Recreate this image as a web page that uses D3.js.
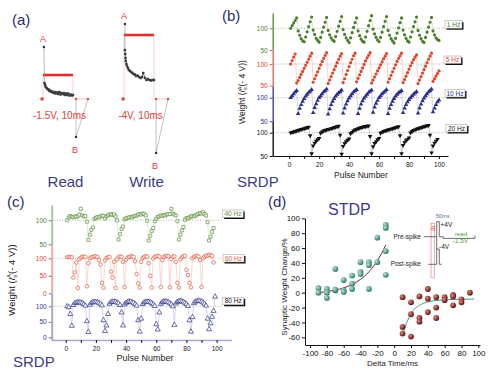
<!DOCTYPE html>
<html>
<head>
<meta charset="utf-8">
<script src="https://cdn.jsdelivr.net/npm/d3@7"></script>
<title>SRDP / STDP</title>
<style>
body { margin: 0; background: #fff; }
svg { font-family: "Liberation Sans", Arial, sans-serif; }
</style>
</head>
<body>
<div id="fig"></div>
<script type="text/javascript">

// ---- panel (a): read / write current traces (t in ms, current in arb. units)
var readT = [0.5, 0.7, 0.9, 1.2, 1.5, 1.8, 2.1, 2.4, 2.8, 3.1, 3.5, 3.9, 4.2, 4.6, 5.0, 5.4, 5.8, 6.1, 6.5, 6.9, 7.2, 7.6, 8.0, 8.4, 8.8, 9.2, 9.6, 10];
var readI = [16, 14, 12, 11, 10, 9.5, 8, 8.5, 7, 7.5, 6, 7, 5.5, 6.5, 5, 7, 4.5, 6, 5, 6, 4, 5.5, 4, 5.5, 3.5, 4.5, 3.5, 4];
var writeT = [0.3, 0.4, 0.5, 0.6, 0.8, 1.0, 1.3, 1.6, 2.0, 2.4, 2.8, 3.2, 3.6, 4.0, 4.5, 5.0, 5.5, 6.0, 6.4, 7.0, 7.5, 8.0, 8.5, 9.0, 9.5, 10];
var writeI = [49, 45, 41, 38, 35, 33, 31, 29, 28, 27, 26, 25, 24.5, 23, 23.5, 22, 21, 22, 26, 21, 19, 20, 19, 18.5, 19, 19];
var readLevels = {peak: 52, pulse: 24, b: -38, tail: [11, 15]};
var writeLevels = {peak: 75, pulse: 64, b: -54, tail: [10.7, 14.7]};

// ---- panel (b): weight vs pulse number at 1, 5, 10, 20 Hz
var bLabels = ["1 Hz", "5 Hz", "10 Hz", "20 Hz"];
var b1Hz = [100,106,112,118,124,
  94,84,76,71,69,80,92,104,115,126,
  96,86,77,72,68,79,91,103,114,125,
  95,85,78,73,70,81,93,105,116,127,
  97,86,78,72,67,78,90,102,113,124,
  94,83,75,70,68,80,93,106,118,129,
  98,87,79,73,69,79,91,104,116,127,
  95,84,76,71,66,77,89,101,113,124,
  96,85,77,71,68,80,92,104,115,126,
  95,84,76,70,67,79,91,103,114,125,
  94,85,78,74,72];
var b5Hz = [100,108,116,123,
  56,62,69,76,83,90,97,104,111,118,125,
  58,66,74,82,90,98,106,113,120,126,
  55,63,71,79,87,95,103,111,118,124,
  57,66,76,85,94,103,111,119,125,
  59,67,75,83,91,99,107,114,120,126,
  56,63,70,77,84,91,98,105,112,118,124,
  58,66,74,82,90,98,106,113,119,125,
  57,64,72,80,88,96,103,110,116,121,
  55,63,71,79,87,95,103,111,118,125,
  60,66,72,78,84];
var b10Hz = [100,104,108,112,115,
  66,77,85,92,98,103,107,111,114,117,
  68,79,87,94,100,104,108,112,115,118,
  65,76,85,92,98,103,107,110,113,116,
  67,78,86,93,99,104,108,112,115,117,
  66,77,86,93,99,103,107,111,114,116,
  69,80,88,94,100,104,108,111,114,117,
  66,77,85,92,98,103,107,110,113,115,
  68,78,85,91,96,100,104,107,110,113,
  67,78,86,93,99,104,108,112,115,118,
  70,78,85,91,95];
var b20Hz = [100,101,102,103,104,105,106,107,108,109,110,111,112,
  94,55,72,78,82,85,88,
  99,102,104,105,106,107,108,109,110,111,112,113,114,
  95,54,71,77,81,84,87,
  98,101,104,106,107,109,110,111,112,113,113,114,115,
  92,55,70,77,81,85,88,
  99,101,103,104,105,106,107,108,109,110,111,112,113,
  94,55,73,79,83,86,89,
  100,103,105,106,108,109,110,111,112,113,114,115,116,
  95,57,72,78,82,86];

// ---- panel (c): weight vs pulse number at 40, 60, 80 Hz
var cLabels = ["40 Hz", "60 Hz", "80 Hz"];
var c40Hz = [100,106,109,107,106,108,107,109,112,124,110,108,109,97,
  59,70,80,85,
  103,105,107,106,108,110,109,104,108,110,112,113,111,112,108,100,
  60,71,82,87,
  102,104,105,106,107,106,108,109,110,112,113,112,114,113,110,99,
  58,68,78,84,
  98,103,107,108,110,109,111,110,112,113,113,124,114,112,110,98,
  60,70,79,86,
  101,105,104,106,108,109,108,110,112,113,115,114,117,113,110,96,
  58,66,76,84];
var c60Hz = [103,104,104,103,45,60,88,15,98,102,104,105,104,20,86,100,103,104,106,105,
  104,95,82,30,16,94,101,103,104,62,45,90,15,97,103,105,104,90,18,96,
  102,104,106,105,104,92,55,28,16,90,101,104,106,105,86,50,16,99,104,106,
  107,105,18,95,104,106,107,106,17,98,104,106,90,30,16,97,103,106,107,67,
  52,30,17,100,104,106,107,105,95,18,100,105,107,108,110,109,107,88];
var c80Hz = [100,97,75,37,
  104,110,112,113,113,112,110,107,102,
  52,17,
  105,111,113,114,114,113,111,108,103,
  55,20,38,75,
  108,113,115,115,114,112,109,104,
  80,38,
  106,111,114,115,115,113,111,107,102,
  55,18,60,
  107,112,114,115,114,113,110,106,101,
  42,25,80,
  108,113,115,116,115,113,110,106,100,
  40,
  109,114,116,117,116,114,111,107,101,
  55,18,65,
  110,115,117,118,117,115,112,108,102,
  60,26,
  45,66,85,131];

// ---- panel (d): STDP, delta t (ms) vs synaptic weight change (%)
var ltpDt = [-90,-90,-80,-80,-80,-70,-70,-70,-60,-60,-60,-50,-50,-50,-40,-40,-40,-30,-30,-30,-20,-20,-10,-10,-10,-10];
var ltpW  = [6,0,5,0,-7,32,3,4,17,3,1,23,12,5,41,28,25,41,37,5,74,41,91,87,56,24];
var ltdDt = [10,10,10,20,20,20,30,30,30,40,40,40,50,50,50,60,60,70,70,70,80,80,90];
var ltdW  = [-6,-46,-55,-13,-29,-59,-5,-34,-39,5,-8,-26,-6,-20,-34,-6,-10,-3,-5,-17,-9,-13,0];
var ltpFitDt = [-90,-80,-70,-60,-50,-40,-30,-20,-10];
var ltpFitW  = [0,1.5,3.5,6.5,11,18,28,43,64];
var ltdFitDt = [10,15,20,30,40,50,60,70,80,95];
var ltdFitW  = [-55,-40,-28,-17,-12.5,-10.5,-9.5,-9,-8.8,-8.6];
// inset pulse schematic (ms, V-ish)
var preWave  = [[-17,0],[0,0],[0,4],[3.4,4],[3.4,0],[8.6,0],[8.6,-0.45],[50,-0.45],[50,0.25]];
var postWave = [[-11,0],[0,0],[0,4],[3.4,4],[3.4,0],[6.5,0]];

var FONT = "Liberation Sans, Arial, sans-serif";
var TITLE = "#3b3b8c";
var plain = function(d){ return String(d); };

var svg = d3.select("#fig").append("svg")
	.attr("width", 500)
	.attr("height", 375);
svg.append("rect").attr("width", 500).attr("height", 375).attr("fill", "#fff");

function styleAxis(g, color, size, width) {
	g.attr("font-family", FONT);
	g.select(".domain").attr("stroke", color).attr("stroke-width", width || 1);
	g.selectAll(".tick line").attr("stroke", color);
	g.selectAll(".tick text").attr("fill", color).attr("font-size", size);
}

function legendBox(x, y, w, h, label, color) {
	svg.append("rect").attr("x", x + 1.5).attr("y", y + 1.5).attr("width", w).attr("height", h).attr("fill", "#111");
	svg.append("rect").attr("x", x).attr("y", y).attr("width", w).attr("height", h)
		.attr("fill", "#fff").attr("stroke", "#999").attr("stroke-width", 0.5);
	svg.append("text").attr("x", x + w / 2).attr("y", y + h - 1.4)
		.attr("text-anchor", "middle").attr("font-size", 6.5).attr("fill", color).text(label);
}

function weightTitle(x, y, size) {
	var t = svg.append("text")
		.attr("transform", "translate(" + x + "," + y + ") rotate(-90)")
		.attr("text-anchor", "middle").attr("font-size", size).attr("fill", "#222");
	t.append("tspan").text("Weight (");
	t.append("tspan").attr("font-style", "italic").text("I");
	t.append("tspan").attr("font-size", size * 0.65).attr("dy", size * 0.25).text("s");
	t.append("tspan").attr("font-size", size * 0.65).attr("dx", -size * 0.35).attr("dy", -size * 0.65).text("A");
	t.append("tspan").attr("dy", size * 0.4).text("(- 4 V))");
}

function label(x, y, txt, size, color, anchor) {
	return svg.append("text").attr("x", x).attr("y", y).attr("font-size", size)
		.attr("fill", color).attr("text-anchor", anchor || "start").text(txt);
}

// ================= (a) =================
label(12, 25, "(a)", 15, "#2c2c6e");
var aY = d3.scaleLinear().domain([0, 75]).range([99, 24]);
var aXr = d3.scaleLinear().domain([0, 10]).range([43, 73]);
var aXw = d3.scaleLinear().domain([0, 10]).range([124, 154]);

function drawTrace(aX, ts, is, lv, caption, name) {
	var pts = ts.map(function(t, i){ return [t, is[i]]; });
	// pale verticals from the pulse bar
	[0, 10].forEach(function(t){
		svg.append("line").attr("x1", aX(t)).attr("x2", aX(t)).attr("y1", aY(lv.pulse)).attr("y2", aY(0))
			.attr("stroke", "#f2b3b3").attr("stroke-width", 0.6);
	});
	// A -> start of the decay
	svg.append("line").attr("x1", aX(0.3)).attr("y1", aY(lv.peak)).attr("x2", aX(ts[0])).attr("y2", aY(is[0]))
		.attr("stroke", "#888").attr("stroke-width", 0.6);
	svg.append("path").datum(pts)
		.attr("d", d3.line().x(function(d){ return aX(d[0]); }).y(function(d){ return aY(d[1]); }))
		.attr("fill", "none").attr("stroke", "#555").attr("stroke-width", 0.8);
	svg.selectAll(null).data(pts).enter().append("rect")
		.attr("x", function(d){ return aX(d[0]) - 1.2; })
		.attr("y", function(d){ return aY(d[1]) - 1.2; })
		.attr("width", 2.4).attr("height", 2.4).attr("fill", "#3a3a3a");
	// red pulse bar
	svg.append("line").attr("x1", aX(0)).attr("x2", aX(10)).attr("y1", aY(lv.pulse)).attr("y2", aY(lv.pulse))
		.attr("stroke", "#e3302b").attr("stroke-width", 2.6);
	// tail to B
	svg.append("line").attr("x1", aX(lv.tail[0])).attr("x2", aX(lv.tail[1])).attr("y1", aY(0)).attr("y2", aY(0))
		.attr("stroke", "#f0a0a0").attr("stroke-width", 0.6);
	svg.append("line").attr("x1", aX(lv.tail[0])).attr("y1", aY(0)).attr("x2", aX(lv.tail[0])).attr("y2", aY(lv.b))
		.attr("stroke", "#999").attr("stroke-width", 0.6);
	svg.append("line").attr("x1", aX(lv.tail[1])).attr("y1", aY(0)).attr("x2", aX(lv.tail[0])).attr("y2", aY(lv.b))
		.attr("stroke", "#999").attr("stroke-width", 0.6);
	[-0.3, lv.tail[0], lv.tail[1]].forEach(function(t, i){
		var s = i === 0 ? 3.2 : 2.2;
		svg.append("rect").attr("x", aX(t) - s / 2).attr("y", aY(0) - s / 2).attr("width", s).attr("height", s)
			.attr("fill", "#e04a40");
	});
	svg.append("rect").attr("x", aX(0.3) - 1.1).attr("y", aY(lv.peak) - 1.1).attr("width", 2.2).attr("height", 2.2).attr("fill", "#333");
	svg.append("rect").attr("x", aX(lv.tail[0]) - 1.1).attr("y", aY(lv.b) - 1.1).attr("width", 2.2).attr("height", 2.2).attr("fill", "#333");
	label(aX(0), aY(lv.peak) - 5, "A", 9, "#e0403a", "middle");
	label(aX(lv.tail[0]) - 1, aY(lv.b) + 16, "B", 9, "#e0403a", "middle");
	label(aX(5.5), 119, caption, 10, "#e0403a", "middle");
	label(aX(7.5), 187, name, 15, TITLE, "middle");
}
drawTrace(aXr, readT, readI, readLevels, "-1.5V, 10ms", "Read");
drawTrace(aXw, writeT, writeI, writeLevels, "-4V, 10ms", "Write");

// ================= (b) =================
label(222, 21, "(b)", 15, "#2c2c6e");
var bX = d3.scaleLinear().domain([-11, 106]).range([272.7, 448]);
var bRows = [
	{vals: b1Hz, label: bLabels[0], color: "#4c7d2a", light: "#c3d6b3", axis: "#5f8f3c", sym: d3.symbolCircle, size: 8, down: false, y100: 28.3, y50: 50, top: 13, box: [445, 20.7, 17]},
	{vals: b5Hz, label: bLabels[1], color: "#e2452a", light: "#f5b8aa", axis: "#ec6a55", sym: d3.symbolCircle, size: 8, down: false, y100: 64, y50: 85.7, top: 50, box: [444, 56, 17]},
	{vals: b10Hz, label: bLabels[2], color: "#2a2f8a", light: "#b5b8dc", axis: "#3f44a0", sym: d3.symbolTriangle, size: 9, down: false, y100: 97.7, y50: 121.3, top: 85.7, box: [445, 89.5, 20]},
	{vals: b20Hz, label: bLabels[3], color: "#111", light: "#aaa", axis: "#111", sym: d3.symbolTriangle, size: 9, down: true, y100: 132.7, y50: 156, top: 121.3, box: [446, 124.5, 21]}
];
bRows.forEach(function(r){
	var y = d3.scaleLinear().domain([50, 100]).range([r.y50, r.y100]);
	svg.append("line").attr("x1", bX.range()[0]).attr("x2", r.box[0]).attr("y1", y(100)).attr("y2", y(100))
		.attr("stroke", "#8a8a8a").attr("stroke-width", 0.7).attr("stroke-dasharray", "1,1.6");
	svg.append("path").datum(r.vals)
		.attr("d", d3.line().x(function(d, i){ return bX(i + 1); }).y(function(d){ return y(d); }))
		.attr("fill", "none").attr("stroke", r.light).attr("stroke-width", 0.6);
	svg.selectAll(null).data(r.vals).enter().append("path")
		.attr("transform", function(d, i){ return "translate(" + bX(i + 1) + "," + y(d) + ")" + (r.down ? " rotate(180)" : ""); })
		.attr("d", d3.symbol().type(r.sym).size(r.size))
		.attr("fill", r.color);
	var ya = y.copy().domain([50, y.invert(r.top)]).range([r.y50, r.top]);
	var g = svg.append("g").attr("transform", "translate(" + bX.range()[0] + ",0)")
		.call(d3.axisLeft(ya).tickValues([50, 100]).tickFormat(plain).tickSize(3).tickSizeOuter(0).tickPadding(2));
	styleAxis(g, r.axis, 6.5, 1.4);
	g.selectAll(".tick text").attr("fill", r.color);
	legendBox(r.box[0], r.box[1], r.box[2], 7.5, r.label, r.color);
});
var bxa = svg.append("g").attr("transform", "translate(0,156)")
	.call(d3.axisBottom(bX).tickValues(d3.range(0, 101, 10))
		.tickFormat(function(d){ return d % 20 === 0 ? String(d) : ""; })
		.tickSize(3).tickSizeOuter(0).tickPadding(3));
styleAxis(bxa, "#111", 6.5, 1);
label(361, 178, "Pulse Number", 8.5, "#222", "middle");
weightTitle(245, 92, 8.5);
label(237, 187, "SRDP", 15, TITLE);

// ================= (c) =================
label(7, 207, "(c)", 15, "#2c2c6e");
var cX = d3.scaleLinear().domain([-9.3, 110]).range([51.7, 231.7]);
var cRows = [
	{vals: c40Hz, label: cLabels[0], color: "#5f8f3c", light: "#c9dbbb", axis: "#a9c795", tick: "#4f7d32", sym: d3.symbolSquare, size: 9, dom: [50, 100], rng: [244.3, 220.3], ticks: [50, 100], top: 205, bottom: 246, box: [222.7, 210, 20.5], dot: "#8aa07a"},
	{vals: c60Hz, label: cLabels[1], color: "#e2553b", light: "#f5c0b3", axis: "#f3aaa3", tick: "#e2453a", sym: d3.symbolCircle, size: 10, dom: [0, 100], rng: [293.3, 258.3], ticks: [0, 50, 100], top: 246, bottom: 293.3, box: [223, 254.5, 21], dot: "#e89a80"},
	{vals: c80Hz, label: cLabels[2], color: "#2e3388", light: "#b9bbdb", axis: "#a9aad3", tick: "#2e3388", sym: d3.symbolTriangle, size: 11, dom: [0, 100], rng: [337.3, 306.3], ticks: [0, 50, 100], top: 293.3, bottom: 340, box: [222.7, 297.3, 21], dot: "#9a9aae"}
];
cRows.forEach(function(r){
	var y = d3.scaleLinear().domain(r.dom).range(r.rng);
	svg.append("line").attr("x1", cX.range()[0]).attr("x2", r.box[0]).attr("y1", y(100)).attr("y2", y(100))
		.attr("stroke", r.dot).attr("stroke-width", 0.7).attr("stroke-dasharray", "1,1.6");
	svg.append("path").datum(r.vals)
		.attr("d", d3.line().x(function(d, i){ return cX(i + 1); }).y(function(d){ return y(d); }))
		.attr("fill", "none").attr("stroke", r.light).attr("stroke-width", 0.6);
	svg.selectAll(null).data(r.vals).enter().append("path")
		.attr("transform", function(d, i){ return "translate(" + cX(i + 1) + "," + y(d) + ")"; })
		.attr("d", d3.symbol().type(r.sym).size(r.size))
		.attr("fill", "#fff").attr("stroke", r.color).attr("stroke-width", 0.7);
	var ya = y.copy().domain([y.invert(r.bottom), y.invert(r.top)]).range([r.bottom, r.top]);
	var g = svg.append("g").attr("transform", "translate(" + cX.range()[0] + ",0)")
		.call(d3.axisLeft(ya).tickValues(r.ticks).tickFormat(plain).tickSize(3).tickSizeOuter(0).tickPadding(2));
	styleAxis(g, r.axis, 6.5, 2);
	g.selectAll(".tick line").attr("stroke", "#777");
	g.selectAll(".tick text").attr("fill", r.tick);
	legendBox(r.box[0], r.box[1], r.box[2], 7.5, r.label, r.label === cLabels[2] ? "#111" : r.color);
});
var cxa = svg.append("g").attr("transform", "translate(0,340)")
	.call(d3.axisBottom(cX).tickValues(d3.range(0, 101, 10))
		.tickFormat(function(d){ return d % 20 === 0 ? String(d) : ""; })
		.tickSize(3).tickSizeOuter(0).tickPadding(3));
styleAxis(cxa, "#111", 6.5, 1);
cxa.select(".domain").attr("stroke", "#a9aad3").attr("stroke-width", 1.5);
label(145, 361, "Pulse Number", 9, "#222", "middle");
weightTitle(15, 280, 9.5);
label(13, 367, "SRDP", 15, TITLE);

// ================= (d) =================
label(268, 207, "(d)", 15, "#2c2c6e");
label(328, 215, "STDP", 16, TITLE);
var defs = svg.append("defs");
[["gTeal", "#b7e3d6", "#2f7a68"], ["gRed", "#d98a80", "#5e1410"]].forEach(function(c){
	var gr = defs.append("radialGradient").attr("id", c[0]).attr("cx", "35%").attr("cy", "35%").attr("r", "65%");
	gr.append("stop").attr("offset", "0%").attr("stop-color", c[1]);
	gr.append("stop").attr("offset", "100%").attr("stop-color", c[2]);
});
var dX = d3.scaleLinear().domain([-106, 102]).range([305, 480]);
var dY = d3.scaleLinear().domain([-70.3, 100]).range([345, 218.3]);
var dxa = svg.append("g").attr("transform", "translate(0,345)")
	.call(d3.axisBottom(dX).tickValues(d3.range(-100, 101, 20)).tickFormat(plain).tickSize(3).tickSizeOuter(0).tickPadding(2));
styleAxis(dxa, "#111", 8, 1);
var dya = svg.append("g").attr("transform", "translate(305,0)")
	.call(d3.axisLeft(dY).tickValues(d3.range(-60, 101, 20)).tickFormat(plain).tickSize(3).tickSizeOuter(0).tickPadding(2));
styleAxis(dya, "#111", 8, 1);
label(392.5, 366, "Delta Time/ms", 8, "#222", "middle");
svg.append("text").attr("transform", "translate(287,287) rotate(-90)")
	.attr("text-anchor", "middle").attr("font-size", 8).attr("fill", "#222").text("Synaptic Weight Change/%");

var fitLine = d3.line().x(function(d){ return dX(d[0]); }).y(function(d){ return dY(d[1]); }).curve(d3.curveMonotoneX);
svg.append("path").datum(ltpFitDt.map(function(t, i){ return [t, ltpFitW[i]]; }))
	.attr("d", fitLine).attr("fill", "none").attr("stroke", "#6e2a2a").attr("stroke-width", 1);
svg.append("path").datum(ltdFitDt.map(function(t, i){ return [t, ltdFitW[i]]; }))
	.attr("d", fitLine).attr("fill", "none").attr("stroke", "#4a9a88").attr("stroke-width", 1);
svg.selectAll(null).data(ltpDt).enter().append("circle")
	.attr("cx", function(d){ return dX(d); })
	.attr("cy", function(d, i){ return dY(ltpW[i]); })
	.attr("r", 2.9).attr("fill", "url(#gTeal)");
svg.selectAll(null).data(ltdDt).enter().append("circle")
	.attr("cx", function(d){ return dX(d); })
	.attr("cy", function(d, i){ return dY(ltdW[i]); })
	.attr("r", 2.9).attr("fill", "url(#gRed)");

// inset: pre / post spike schematic
var iX = d3.scaleLinear().domain([0, 50]).range([436.7, 475]);
var iPre = d3.scaleLinear().domain([0, 4]).range([236.7, 221.7]);
var iPost = d3.scaleLinear().domain([0, 4]).range([264.3, 249]);
svg.append("rect").attr("x", iX(-7.4)).attr("y", iPre(3.6)).attr("width", iX(-3.1) - iX(-7.4)).attr("height", iPost(-3.4) - iPre(3.6))
	.attr("fill", "none").attr("stroke", "#ee8f9a").attr("stroke-width", 0.8);
svg.append("path").datum(preWave)
	.attr("d", d3.line().x(function(d){ return iX(d[0]); }).y(function(d){ return iPre(d[1]); }))
	.attr("fill", "none").attr("stroke", "#333").attr("stroke-width", 0.7);
svg.append("path").datum(postWave)
	.attr("d", d3.line().x(function(d){ return iX(d[0]); }).y(function(d){ return iPost(d[1]); }))
	.attr("fill", "none").attr("stroke", "#333").attr("stroke-width", 0.7);
svg.append("line").attr("x1", iX(0)).attr("x2", iX(0)).attr("y1", iPre(0)).attr("y2", iPost(4))
	.attr("stroke", "#333").attr("stroke-width", 0.7);
svg.append("text").attr("transform", "translate(" + (iX(-5.25) + 2) + "," + iPre(2.2) + ") rotate(-90)")
	.attr("text-anchor", "middle").attr("font-size", 5.5).attr("fill", "#e03a3a").text("Δt");
label(421, 238.5, "Pre-spike", 6.5, "#222", "end");
label(421, 266, "Post-spike", 6.5, "#222", "end");
label(440.5, 226.5, "+4V", 6.5, "#222");
label(439, 249, "-4V", 6.5, "#222");
label(455, 236, "read", 6, "#4a9a3a");
label(452.5, 243, "-1.5V", 6.5, "#4a9a3a");
label(436, 218, "50ms", 5.5, "#5a6aa0");

</script>
</body>
</html>
